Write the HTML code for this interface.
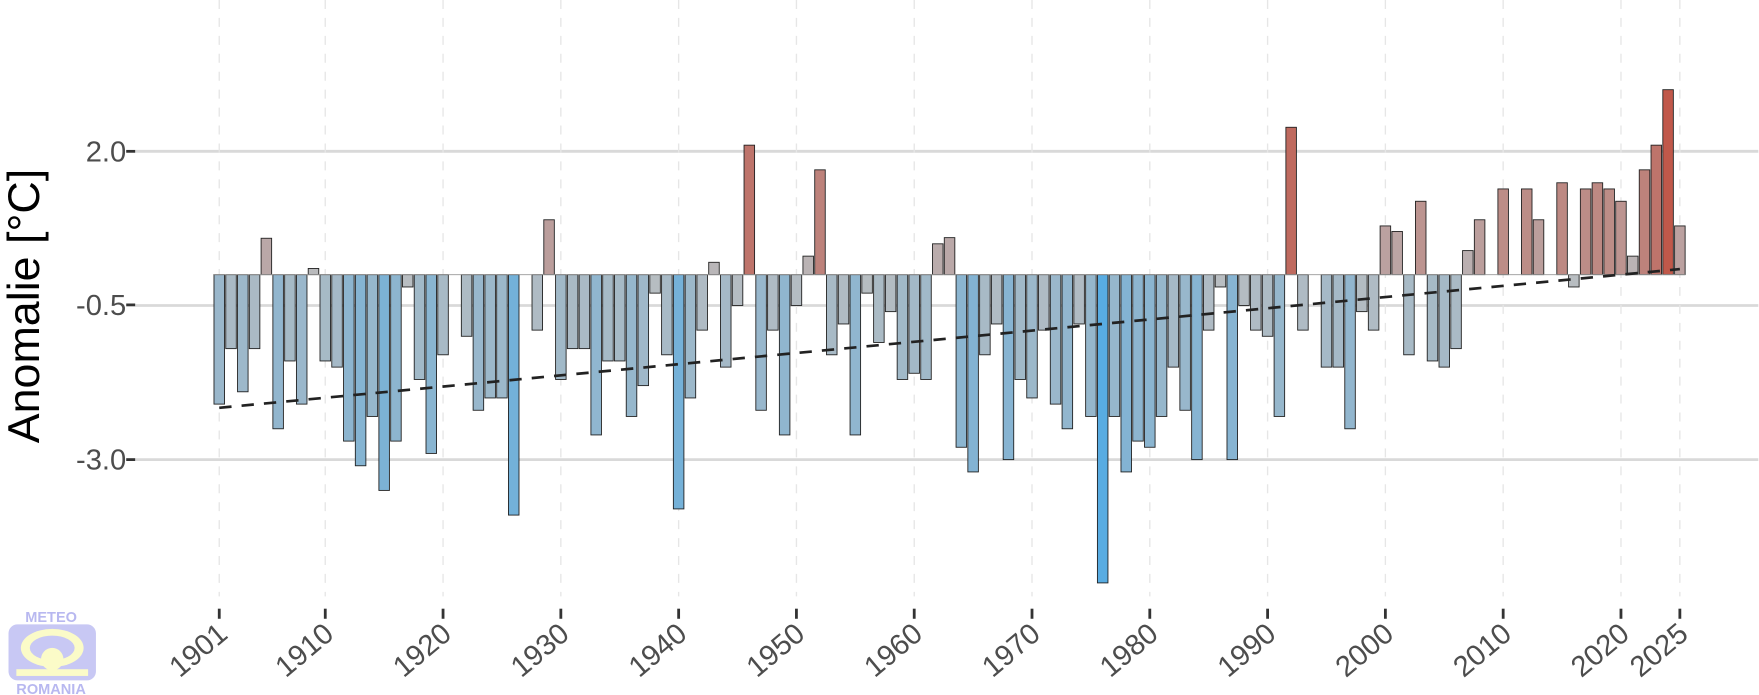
<!DOCTYPE html>
<html><head><meta charset="utf-8"><style>
html,body{margin:0;padding:0;background:#fff;width:1759px;height:695px;overflow:hidden}
svg{display:block}
text{font-family:"Liberation Sans",sans-serif}
</style></head><body>
<svg id="s" width="1759" height="695" viewBox="0 0 1568 620" xmlns="http://www.w3.org/2000/svg">
<g id="grid"></g>
<g id="bars"></g>
<g id="fg"></g>
<text x="0" y="0" transform="translate(34,273) rotate(-90)" text-anchor="middle" font-size="40" fill="#000">Anomalie [°C]</text>
<text x="112" y="144" text-anchor="end" font-size="26" fill="#4d4d4d">2.0</text>
<text x="112" y="281" text-anchor="end" font-size="26" fill="#4d4d4d">-0.5</text>
<text x="112" y="419" text-anchor="end" font-size="26" fill="#4d4d4d">-3.0</text>
<g>
<text x="45" y="555" text-anchor="middle" font-size="13" font-weight="bold" fill="#b8b8f0">METEO</text>
<rect x="7" y="557" width="78" height="50" rx="8" fill="#c8c8f4"/>
<ellipse cx="46" cy="578" rx="28" ry="17" fill="#fbfbc8"/>
<ellipse cx="46" cy="578" rx="20" ry="11" fill="#c8c8f4"/>
<circle cx="46" cy="588" r="10" fill="#fbfbc8"/>
<rect x="14" y="597" width="64" height="6" fill="#fbfbc8"/>
<text x="45" y="619" text-anchor="middle" font-size="13" font-weight="bold" fill="#b8b8f0">ROMANIA</text>
</g>
</svg>
<script>
var v={1901:-2.1,1902:-1.2,1903:-1.9,1904:-1.2,1905:0.59,1906:-2.5,1907:-1.4,1908:-2.1,1909:0.1,1910:-1.4,
1911:-1.5,1912:-2.7,1913:-3.1,1914:-2.3,1915:-3.5,1916:-2.7,1917:-0.2,1918:-1.7,1919:-2.9,1920:-1.3,
1921:0,1922:-1.0,1923:-2.2,1924:-2.0,1925:-2.0,1926:-3.9,1927:0,1928:-0.9,1929:0.89,1930:-1.7,
1931:-1.2,1932:-1.2,1933:-2.6,1934:-1.4,1935:-1.4,1936:-2.3,1937:-1.8,1938:-0.3,1939:-1.3,1940:-3.8,
1941:-2.0,1942:-0.9,1943:0.2,1944:-1.5,1945:-0.5,1946:2.1,1947:-2.2,1948:-0.9,1949:-2.6,1950:-0.5,
1951:0.3,1952:1.7,1953:-1.3,1954:-0.8,1955:-2.6,1956:-0.3,1957:-1.1,1958:-0.6,1959:-1.7,1960:-1.6,
1961:-1.7,1962:0.5,1963:0.6,1964:-2.8,1965:-3.2,1966:-1.3,1967:-0.8,1968:-3.0,1969:-1.7,1970:-2.0,
1971:-0.9,1972:-2.1,1973:-2.5,1974:-0.8,1975:-2.3,1976:-5.0,1977:-2.3,1978:-3.2,1979:-2.7,1980:-2.8,
1981:-2.3,1982:-1.5,1983:-2.2,1984:-3.0,1985:-0.9,1986:-0.2,1987:-3.0,1988:-0.5,1989:-0.9,1990:-1.0,
1991:-2.3,1992:2.39,1993:-0.9,1994:0,1995:-1.5,1996:-1.5,1997:-2.5,1998:-0.6,1999:-0.9,2000:0.79,
2001:0.7,2002:-1.3,2003:1.19,2004:-1.4,2005:-1.5,2006:-1.2,2007:0.39,2008:0.89,2009:0,2010:1.39,
2011:0,2012:1.39,2013:0.89,2014:0,2015:1.49,2016:-0.2,2017:1.39,2018:1.49,2019:1.39,2020:1.19,
2021:0.3,2022:1.7,2023:2.1,2024:3.0,2025:0.79};
function X(yr){return 195+(yr-1901)*10.508}
function Y(val){return 245-val*55}
function mix(a,b,t){t=Math.max(0,Math.min(1,t));return 'rgb('+a.map(function(c,i){return Math.round(c+(b[i]-c)*t)}).join(',')+')'}
var grey=[185,189,192],blue=[88,172,226],red=[192,88,74];
var s='';
var g='';
[2.0,-0.5,-3.0].forEach(function(k){g+='<line x1="120" x2="1568" y1="'+Y(k)+'" y2="'+Y(k)+'" stroke="#d9d9d9" stroke-width="2.5"/>';});
var ticks=[1901,1910,1920,1930,1940,1950,1960,1970,1980,1990,2000,2010,2020,2025];
ticks.forEach(function(t){g+='<line x1="'+X(t)+'" x2="'+X(t)+'" y1="0" y2="532" stroke="#e6e6e6" stroke-width="1.2" stroke-dasharray="8,8"/>';});
document.getElementById('grid').innerHTML=g;
for(var yr=1901;yr<=2025;yr++){var val=v[yr];if(!val)continue;
var c=val<0?mix(grey,blue,Math.pow((-val)/5,1.3)):mix(grey,red,val/2.9);
var ry=Math.min(Y(0),Y(val)),h=Math.abs(Y(val)-Y(0));
s+='<rect x="'+(X(yr)-4.7)+'" y="'+ry+'" width="9.4" height="'+h+'" fill="'+c+'" stroke="#222" stroke-width="0.8"/>';}
s+='<line x1="'+(X(1901)-4.7)+'" x2="'+(X(2025)+4.7)+'" y1="245" y2="245" stroke="#999" stroke-width="0.8"/>';
document.getElementById('bars').innerHTML=s;
var f='<line x1="'+X(1901)+'" y1="'+Y(-2.16)+'" x2="'+X(2025)+'" y2="'+Y(0.09)+'" stroke="#222" stroke-width="2.4" stroke-dasharray="11,9"/>';
f+='<line x1="112" x2="120" y1="135" y2="135" stroke="#333" stroke-width="2.5"/><line x1="112" x2="120" y1="272" y2="272" stroke="#333" stroke-width="2.5"/><line x1="112" x2="120" y1="410" y2="410" stroke="#333" stroke-width="2.5"/>';
ticks.forEach(function(t){var x=X(t);f+='<line x1="'+x+'" x2="'+x+'" y1="543" y2="552" stroke="#333" stroke-width="2.5"/>';
f+='<text transform="translate('+(x+9)+',568) rotate(-40)" text-anchor="end" font-size="26" fill="#4d4d4d">'+t+'</text>';});
document.getElementById('fg').innerHTML=f;
</script>
</body></html>
